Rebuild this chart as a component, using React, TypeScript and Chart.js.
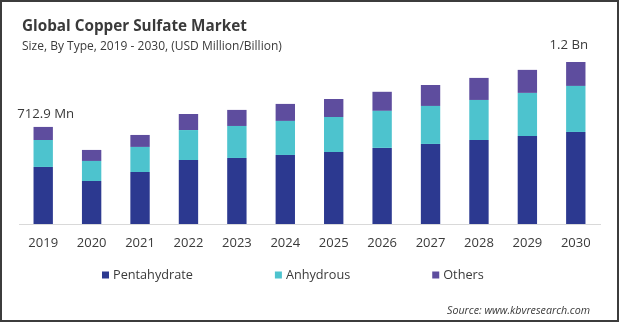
import React, { useEffect, useRef } from 'react';
import { Chart, registerables } from 'chart.js';

Chart.register(...registerables);

const years = ['2019', '2020', '2021', '2022', '2023', '2024', '2025', '2026', '2027', '2028', '2029', '2030'];
const pentahydrate = [419, 316, 382, 470, 485, 507, 529, 559, 588, 617, 647, 676];
const anhydrous = [198, 147, 184, 220, 235, 250, 257, 272, 279, 294, 316, 338];
const others = [96, 81, 88, 118, 118, 125, 132, 140, 154, 162, 169, 176];
const seriesNames = ['Pentahydrate', 'Anhydrous', 'Others'];
const seriesColors = ['#2C3990', '#4DC3CE', '#5E4D9E'];
const titleText = 'Global Copper Sulfate Market';
const subtitleText = 'Size, By Type, 2019 - 2030, (USD Million/Billion)';
const firstLabel = '712.9 Mn';
const lastLabel = '1.2 Bn';
const sourceText = 'Source: www.kbvresearch.com';
const yMax = 1300;

const FAMILY = '"Open Sans", sans-serif';
const TEXT = '#3A3A3A';

function fitFont(ctx: CanvasRenderingContext2D, text: string, weight: string, style: string, target: number) {
  ctx.font = `${style} ${weight} 20px ${FAMILY}`;
  const w = ctx.measureText(text).width;
  const size = (20 * target) / w;
  return `${style} ${weight} ${size.toFixed(2)}px ${FAMILY}`;
}

const decorPlugin = {
  id: 'decor',
  beforeDraw(chart: any) {
    const { ctx, width, height } = chart;
    ctx.save();
    ctx.fillStyle = '#FFFFFF';
    ctx.fillRect(0, 0, width, height);
    ctx.restore();
  },
  afterDraw(chart: any) {
    const { ctx, width, height } = chart;
    const xs = chart.scales.x;
    const ys = chart.scales.y;
    ctx.save();
    ctx.fillStyle = TEXT;
    ctx.textBaseline = 'middle';
    ctx.textAlign = 'left';
    // title + subtitle
    ctx.font = fitFont(ctx, titleText, 'bold', 'normal', 225);
    ctx.fillText(titleText, 22, 27);
    ctx.font = fitFont(ctx, subtitleText, 'normal', 'normal', 260);
    ctx.fillText(subtitleText, 22, 47);

    // value annotations
    const totals = years.map((_, i) => pentahydrate[i] + anhydrous[i] + others[i]);
    ctx.font = fitFont(ctx, firstLabel, 'normal', 'normal', 57);
    ctx.textAlign = 'center';
    ctx.fillText(firstLabel, xs.getPixelForValue(0) + 2.5, ys.getPixelForValue(totals[0]) - 13);
    const last = years.length - 1;
    ctx.fillText(lastLabel, xs.getPixelForValue(last) - 7, ys.getPixelForValue(totals[last]) - 17);

    // legend
    ctx.textAlign = 'left';
    const legendFont = fitFont(ctx, seriesNames[0], 'normal', 'normal', 80);
    ctx.font = legendFont;
    let x = 102;
    const ly = 275;
    seriesNames.forEach((name, i) => {
      ctx.fillStyle = seriesColors[i];
      ctx.fillRect(x, ly - 3.5, 7, 7);
      ctx.fillStyle = TEXT;
      ctx.fillText(name, x + 11, ly);
      x += 11 + ctx.measureText(name).width + 82;
    });

    // source
    ctx.textAlign = 'right';
    ctx.font = fitFont(ctx, sourceText, 'normal', 'italic', 143);
    ctx.fillText(sourceText, 590, 311);

    // frame
    ctx.strokeStyle = '#3C3C3C';
    ctx.lineWidth = 2;
    ctx.strokeRect(1, 1, width - 2, height - 2);
    ctx.restore();
  },
};

export default function App() {
  const canvasRef = useRef<HTMLCanvasElement | null>(null);

  useEffect(() => {
    document.body.style.margin = '0';
    const canvas = canvasRef.current;
    if (!canvas) return;
    const datasets = [pentahydrate, anhydrous, others].map((data, i) => ({
      label: seriesNames[i],
      data,
      backgroundColor: seriesColors[i],
      borderWidth: 0,
      barPercentage: 0.4,
      categoryPercentage: 1,
    }));
    const chart = new Chart(canvas, {
      type: 'bar',
      data: { labels: years, datasets },
      options: {
        responsive: false,
        animation: false,
        layout: { padding: { left: 19, right: 19, top: 47, bottom: 0 } },
        plugins: {
          legend: { display: false },
          tooltip: { enabled: false },
          title: { display: false },
        },
        scales: {
          x: {
            stacked: true,
            grid: { display: false },
            border: { display: true, color: '#D9D9D9', width: 1 },
            ticks: {
              color: TEXT,
              font: { family: FAMILY, size: 13 },
              padding: 3,
              maxRotation: 0,
            },
            afterFit: (axis: any) => {
              axis.height = 98;
            },
          },
          y: {
            stacked: true,
            display: false,
            min: 0,
            max: yMax,
          },
        },
      },
      plugins: [decorPlugin],
    });
    return () => chart.destroy();
  }, []);

  return (
    <div style={{ width: 619, height: 322 }}>
      <canvas ref={canvasRef} width={619} height={322} style={{ display: 'block' }} />
    </div>
  );
}
